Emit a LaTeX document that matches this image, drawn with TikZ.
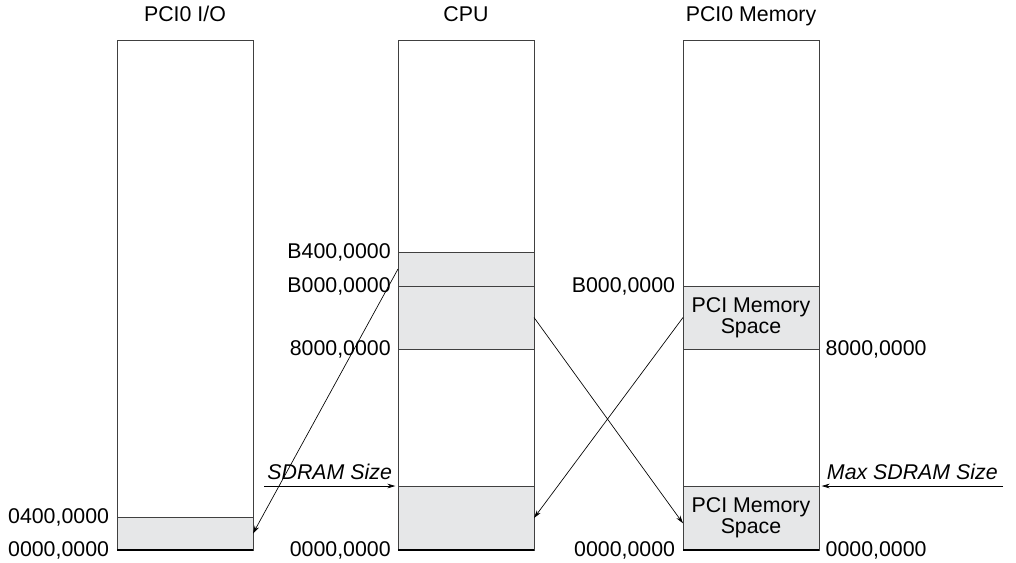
\documentclass[tikz,border=0pt]{standalone}
\usepackage{fontspec}
\setmainfont{Liberation Sans}
\usetikzlibrary{arrows.meta,positioning}
\definecolor{shade}{HTML}{E6E7E8}
\definecolor{edge}{HTML}{404040}

\begin{document}
\begin{tikzpicture}[x=0.75pt,y=-0.75pt,
  every node/.style={font=\fontsize{16}{16}\selectfont,inner sep=0pt,outer sep=0pt},
  map/.style={draw=edge,line width=0.7pt,anchor=north west,minimum width=102pt},
  region/.style={map,fill=shade,align=center},
  link/.style={-{Stealth[length=6pt,width=3.5pt]},line width=0.5pt},
  size/.style={font=\fontsize{16}{16}\selectfont\itshape}]
\useasboundingbox (0,0) rectangle (1016,562);

\node[map,minimum height=382.5pt] (io) at (117,40) {};
\node[region,minimum height=24.75pt] (iolow) at (117,517) {};
\draw[line width=1.8pt] (io.south west) -- (io.south east);

\node[map,minimum height=382.5pt] (cpu) at (398,40) {};
\node[region,minimum height=25.5pt] (cpuhi) at (398,252) {};
\node[region,minimum height=47.25pt] (cpumid) at (398,286) {};
\node[region,minimum height=48pt] (cpulow) at (398,486) {};
\draw[line width=1.8pt] (cpu.south west) -- (cpu.south east);

\node[map,minimum height=382.5pt] (mem) at (683,40) {};
\node[region,minimum height=47.25pt] (memhi) at (683,286) {PCI Memory\\Space};
\node[region,minimum height=48pt] (memlow) at (683,486) {PCI Memory\\Space};
\draw[line width=1.8pt] (mem.south west) -- (mem.south east);

\node[anchor=base] (tio) at ([yshift=14pt]io.north) {PCI0 I/O};
\node[anchor=base] (tcpu) at ([yshift=14pt]cpu.north) {CPU};
\node[anchor=base] (tmem) at ([yshift=14pt]mem.north) {PCI0 Memory};

\node[left=6pt of iolow.north west] (io400) {0400,0000};
\node[left=6pt of io.south west] (io0) {0000,0000};

\node[left=5.5pt of cpuhi.north west] (cpub4) {B400,0000};
\node[left=5.5pt of cpumid.north west] (cpub0) {B000,0000};
\node[left=5.5pt of cpumid.south west] (cpu8) {8000,0000};
\node[left=5.5pt of cpu.south west] (cpu0) {0000,0000};

\node[left=6pt of memhi.north west] (memb0) {B000,0000};
\node[right=5pt of memhi.south east] (mem8) {8000,0000};
\node[left=6pt of mem.south west] (mem0l) {0000,0000};
\node[right=5pt of mem.south east] (mem0r) {0000,0000};

\coordinate (sdram) at (264,486);
\coordinate (maxsdram) at (1003,486);
\draw[link] (sdram) -- ([xshift=-2pt]cpulow.north west)
  node[size,midway,above=5pt] (lsdram) {SDRAM Size};
\draw[link] (maxsdram) -- ([xshift=2pt]memlow.north east)
  node[size,midway,above=5pt] (lmax) {Max SDRAM Size};

\draw[link] (cpuhi.west) -- (iolow.east);
\draw[link] (cpumid.east) -- ([yshift=-4pt]memlow.west);
\draw[link] (memhi.west) -- (cpulow.east);
\end{tikzpicture}
\end{document}
